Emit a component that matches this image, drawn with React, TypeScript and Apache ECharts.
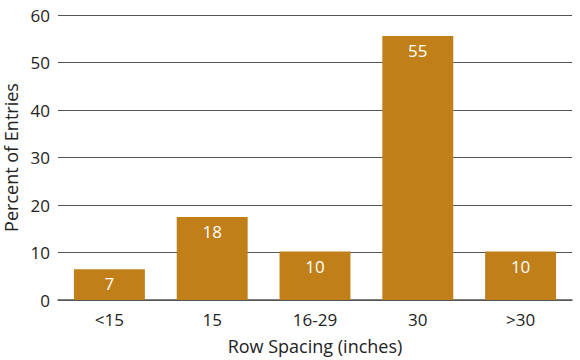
import React, { useEffect, useRef } from "react";
import * as echarts from "echarts";

const categories = ["<15", "15", "16-29", "30", ">30"];
const values = [6.5, 17.5, 10.2, 55.6, 10.2];
const barLabels = ["7", "18", "10", "55", "10"];
const yTicks = { min: 0, max: 60, interval: 10 };

export default function App() {
  const ref = useRef<HTMLDivElement>(null);
  useEffect(() => {
    document.body.style.margin = "0";
    if (!ref.current) return;
    const chart = echarts.init(ref.current, undefined, { renderer: "svg" });
    const font = "Open Sans";
    chart.setOption({
      animation: false,
      textStyle: { fontFamily: font },
      grid: { left: 58, right: 8, top: 15, bottom: 60, outerBoundsMode: "none", containLabel: false },
      xAxis: {
        type: "category",
        data: categories,
        name: "Row Spacing (inches)",
        nameLocation: "middle",
        nameGap: 37,
        nameTextStyle: { fontSize: 18, color: "#222", fontFamily: font },
        axisLine: { lineStyle: { color: "#555", width: 1.5 } },
        axisTick: { show: false },
        axisLabel: { fontSize: 17, color: "#222", margin: 11, fontFamily: font },
      },
      yAxis: {
        type: "value",
        min: yTicks.min,
        max: yTicks.max,
        interval: yTicks.interval,
        name: "Percent of Entries",
        nameLocation: "middle",
        nameGap: 34,
        nameTextStyle: { fontSize: 18, color: "#222", fontFamily: font },
        axisLine: { show: false },
        axisTick: { show: false },
        axisLabel: { fontSize: 17, color: "#222", margin: 8, fontFamily: font },
        splitLine: { lineStyle: { color: "#555", width: 1.2 } },
      },
      series: [
        {
          type: "bar",
          data: values,
          barCategoryGap: "31%",
          itemStyle: { color: "#C17F1A" },
          label: {
            show: true,
            position: "insideTop",
            distance: 6,
            color: "#fff",
            fontSize: 17,
            fontFamily: font,
            formatter: (p: any) => barLabels[p.dataIndex],
          },
        },
      ],
    });
    return () => chart.dispose();
  }, []);
  return <div ref={ref} style={{ width: 580, height: 360 }} />;
}
